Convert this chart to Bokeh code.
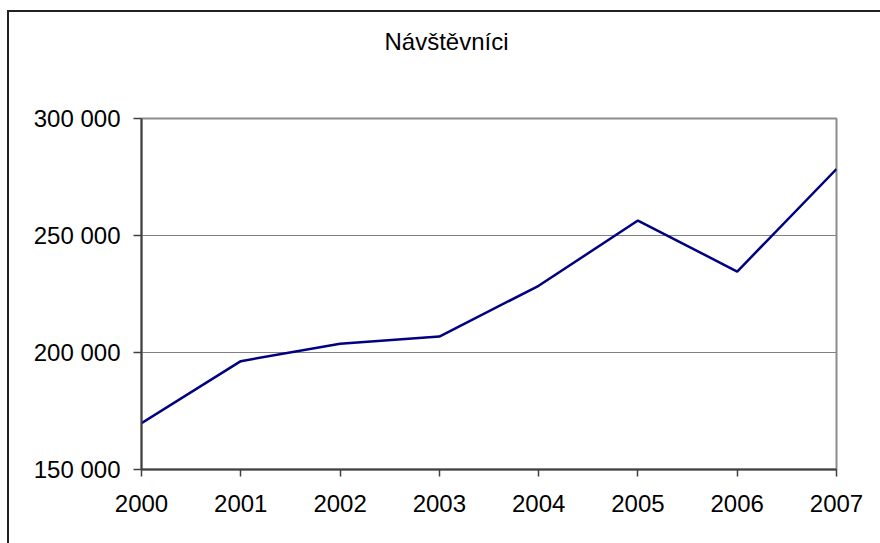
from bokeh.plotting import figure
from bokeh.models import Range1d, FixedTicker, CustomJSTickFormatter, Title, InlineStyleSheet
from bokeh.embed import file_html
from bokeh.resources import INLINE

years = [2000, 2001, 2002, 2003, 2004, 2005, 2006, 2007]
visitors = [169800, 196300, 203700, 206800, 228500, 256400, 234600, 278400]
y_ticks = [150000, 200000, 250000, 300000]
title_text = "Návštěvníci"

FONT = "Liberation Sans"

p = figure(width=883, height=543, output_backend="svg", toolbar_location=None,
           x_range=Range1d(2000, 2007), y_range=Range1d(150000, 300000),
           min_border_left=141, min_border_right=47, min_border_top=118,
           min_border_bottom=74)

# outer chart-area border: only its left and top edges are visible in the reference
p.stylesheets = [InlineStyleSheet(css="""
:host {
  background-color: white;
  background-image: linear-gradient(#222222, #222222), linear-gradient(#222222, #222222);
  background-size: 2px 100%, 100% 2px;
  background-position: 7px 10px, 7px 10px;
  background-repeat: no-repeat;
}
""")]
p.border_fill_alpha = 0

# real title (outermost) + an invisible spacer title between it and the frame
p.title = Title(text=title_text, align="left", offset=243, standoff=0,
                text_font=FONT, text_font_size="24px", text_font_style="normal",
                text_color="#000000")
spacer = Title(text=" ", standoff=35, text_font=FONT, text_font_size="24px",
               text_color="white")
p.add_layout(spacer, "above")

p.line(years, visitors, line_color="#000080", line_width=2.5)

p.background_fill_color = "white"
p.outline_line_color = "#8c8c8c"
p.outline_line_width = 2

p.xgrid.visible = False
p.ygrid.grid_line_color = "#808080"
p.ygrid.grid_line_width = 1
p.ygrid.ticker = FixedTicker(ticks=y_ticks)

for ax in (p.xaxis[0], p.yaxis[0]):
    ax.axis_line_color = "#404040"
    ax.axis_line_width = 2
    ax.major_tick_line_color = "#404040"
    ax.major_tick_line_width = 1.5
    ax.major_tick_in = 0
    ax.minor_tick_line_color = None
    ax.major_label_text_font = FONT
    ax.major_label_text_font_size = "24px"
    ax.major_label_text_color = "#000000"

p.xaxis.ticker = FixedTicker(ticks=years)
p.xaxis.major_tick_out = 7
p.xaxis.major_label_standoff = 18
p.yaxis.ticker = FixedTicker(ticks=y_ticks)
p.yaxis.major_tick_out = 8
p.yaxis.major_label_standoff = 13
p.yaxis.formatter = CustomJSTickFormatter(code="""
return tick.toFixed(0).replace(/\\B(?=(\\d{3})+(?!\\d))/g, " ");
""")

open("out.html", "w").write(file_html(p, INLINE))
